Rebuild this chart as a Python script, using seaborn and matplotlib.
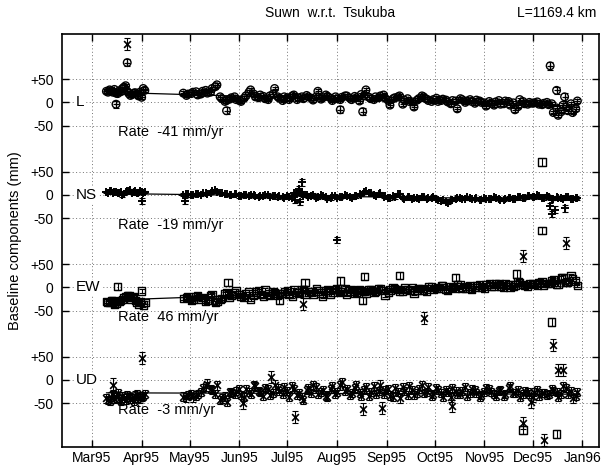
import numpy as np
import pandas as pd
import matplotlib
matplotlib.use("Agg")
import matplotlib.pyplot as plt
import matplotlib.dates as mdates
import seaborn as sns

sns.set_theme(style="ticks")
plt.rcParams['font.family'] = ['Liberation Sans', 'DejaVu Sans']
for k in ["text.color", "axes.labelcolor", "xtick.color", "ytick.color", "axes.edgecolor"]:
    plt.rcParams[k] = "black"

# ---------------- data (day of year 1995) ----------------
days_a = [69, 71, 73, 75, 77, 79, 81, 83, 85, 87, 89, 91, 93]
days_b = [117, 120, 123, 126, 129, 132, 135, 138, 141, 144, 147, 150, 153, 156, 159, 162,
          165, 168, 171, 174, 177, 180, 183, 186, 189, 192, 195, 198, 201, 204, 207, 210,
          213, 216, 219, 222, 225, 228, 231, 234, 237, 240, 243, 246, 249, 252, 255, 258,
          261, 264, 267, 270, 273, 276, 279, 282, 285, 288, 291, 294, 297, 300, 303, 306,
          309, 312, 315, 318, 321, 324, 327, 330, 333, 336, 339, 342, 345, 348, 351, 354,
          357, 360, 363]
days_c = [70, 72, 74, 76, 78, 80, 82, 84, 86, 88, 90, 92]
days_d = [119, 122, 125, 128, 131, 134, 137, 140, 143, 146,
          149, 152, 155, 158, 161, 164, 167, 170, 173, 176,
          179, 182, 185, 188, 191, 194, 197, 200, 203, 206,
          209, 212, 215, 218, 221, 224, 227, 230, 233, 236,
          239, 242, 245, 248, 251, 254, 257, 260, 263, 266,
          269, 272, 275, 278, 281, 284, 287, 290, 293, 296,
          299, 302, 305, 308, 311, 314, 317, 320, 323, 326,
          329, 332, 335, 338, 341, 344, 347, 350, 353, 356,
          359, 362]

L_a = [24, 27, 22, 20, 25, 30, 36, 19, 17, 21, 14, 11, 26]
L_b = [20, 18, 22, 16, 24, 20, 30, 38, 8, 4, 10, 6, 2, 14, 27, 12,
       16, 8, 14, 30, 9, 12, 6, 16, 10, 8, 12, 5, 24, 10, 13, 4,
       8, 11, 14, 6, 10, 17, 27, 8, 12, 14, 9, -6, 10, 14, 5, 2,
       -10, 8, 12, 4, 6, 2, 7, 1, 4, -14, 6, 3, 2, 5, 0, -8,
       -2, 1, -4, 3, -6, -16, 6, -3, 0, -1, -4, -2, -5, -22, -28, -6,
       -18, -22, 3]
L_c = [22, 25, 28, 19, 23, 33, 24, 15, 20, 18, 22, 30]
L_d = [15, 19, 23, 18, 26, 22, 34, 12, 2, 7,
       12, 4, 9, 22, 18, 10, 13, 6, 18, 12,
       4, 10, 14, 6, 12, 15, 9, 12, 7, 16,
       9, 12, 6, 14, 9, 13, 3, 15, 11, 6,
       10, 16, 4, 8, 12, -4, 8, 1, 5, 14,
       7, 2, 9, 4, 5, -3, 3, 8, 0, 6,
       -2, 3, -1, 2, -6, 4, -3, 2, -1, -9,
       2, -4, -2, 1, -5, 0, -3, -12, -20, -10,
       -3, -14]
L_out_day = [75, 82, 144, 215, 229, 346, 350, 355]
L_out_val = [-4, 86, -18, -16, -20, 79, 26, 12]

NS_a = [6, 8, 5, 7, 3, -1, 6, 9, 5, 8, 4, 7, 6]
NS_b = [0, 2, 0, 1, 3, 2, 8, 6, 3, 1, -1, 2, -2, -1, 0, -3,
        -2, -1, -4, -2, -3, -6, -4, 4, 8, -2, -4, 0, -5, -2, -8, -3,
        -6, -4, -2, -6, -3, 0, 8, 4, -2, 3, -3, -7, -5, 1, -8, -4,
        -6, -9, -5, -7, -4, -10, -12, -17, -10, -6, -8, -5, -9, -7, -10, -8,
        -9, -6, -10, -8, -7, -9, -4, -6, -2, -5, -3, -7, -4, -9, -6, -8,
        -5, -9, -7]
NS_c = [5, 9, 7, 4, 6, 2, 8, 10, 6, 3, 9, 5]
NS_d = [1, -1, 2, 0, 4, 5, 10, 4, 2, 0,
        1, -3, 0, -2, -1, -4, -3, 0, -3, -5,
        -4, -2, -6, 2, 6, 0, -3, -6, -1, -4,
        -7, -2, -5, -1, -4, -2, 2, 6, 5, 0,
        1, -4, -6, -3, 2, -6, -5, -8, -7, -4,
        -9, -6, -8, -14, -15, -11, -8, -6, -9, -7,
        -8, -11, -7, -9, -5, -8, -11, -6, -8, -5,
        -7, -3, -4, -1, -6, -2, -8, -5, -7, -4,
        -8, -6]
NS_out_day = [91, 118, 187, 189, 190, 191, 213, 346, 347, 349, 355]
NS_out_val = [-13, -13, -10, 13, -15, 27, -97, -24, -41, -32, -29]

EW_a = [-30, -33, -28, -35, -31, -26, -20, -18, -22, -29, -36, -8, -33]
EW_b = [-24, -20, -26, -18, -22, -28, -16, -30, -24, -12, -18, -8, -20, -14, -26, -10,
        -16, -5, -18, -12, -14, -9, -16, -6, -12, -4, -10, -15, -8, -20, -6, -11,
        -3, -9, -14, -5, -10, -7, -12, -4, -9, -2, -17, -6, -3, -8, -1, -7,
        -12, -3, -6, 2, -4, -1, 3, -6, 0, 5, -3, 2, -5, 4, 0, 6,
        2, 8, 3, 7, 1, 5, 10, 4, 8, 6, 11, 5, 9, 16, 7, 22,
        10, 18, 4]
EW_c = [-33, -29, -37, -30, -28, -22, -17, -25, -20, -33, -31, -38]
EW_d = [-22, -28, -20, -25, -30, -19, -33, -26, -14, -22,
        -12, -16, -22, -10, -18, -7, -20, -14, -9, -17,
        -13, -8, -19, -11, -5, -14, -9, -3, -12, -7,
        -15, -5, -10, -2, -8, -12, -4, -9, -6, -11,
        -3, -7, -10, -1, -5, -9, -4, 0, -6, -2,
        -8, 1, -3, 4, -5, 2, -2, 6, -1, 3,
        0, 5, -2, 7, 3, 9, 1, 6, 2, 12,
        6, 3, 9, 5, 12, 8, 14, 6, 20, 12,
        26, 14]
EW_out_day = [76, 145, 177, 193, 215, 229, 230, 252, 287, 325, 329, 341, 341, 347, 350]
EW_out_val = [2, 10, -27, 10, 14, -29, 24, 26, 21, 29, -308, 271, 123, -75, -317]

UD_a = [-40, -46, -30, -38, -42, -35, -44, -37, -40, -34, -38, -36, -31]
UD_b = [-36, -33, -38, -30, -18, -8, -22, -12, -40, -48, -28, -24, -32, -20, -30, -14,
        -26, -18, -32, -10, -24, -16, -36, -20, -28, -44, -18, -12, -30, -22, -36, -14,
        -26, -4, -20, -28, -12, -34, -16, -26, -30, -10, -22, -34, -18, -40, -24, -14,
        -32, -20, -28, -16, -30, -22, -36, -26, -18, -30, -24, -34, -20, -28, -32, -18,
        -26, -34, -22, -30, -14, -28, -36, -24, -30, -26, -34, -28, -30, -24, -36, -14,
        -30, -40, -26]
UD_c = [-44, -36, -42, -28, -45, -39, -33, -41, -46, -30, -40, -35]
UD_d = [-38, -30, -34, -26, -14, -20, -30, -44, -36, -26,
        -30, -20, -36, -26, -12, -24, -34, -20, -28, -18,
        -30, -24, -14, -32, -38, -22, -28, -16, -26, -34,
        -20, -30, -12, -24, -32, -18, -28, -22, -34, -14,
        -24, -30, -20, -36, -26, -16, -32, -22, -28, -12,
        -26, -34, -18, -28, -22, -38, -24, -30, -16, -28,
        -22, -36, -26, -20, -30, -24, -34, -18, -28, -22,
        -30, -26, -38, -22, -28, -32, -20, -26, -30, -18,
        -24, -34]
UD_out_day = [73, 82, 91, 154, 172, 187, 192, 229, 241, 267, 285, 329, 329, 334, 342, 348, 351, 354, 356]
UD_out_val = [-10, 726, 48, -50, 7, -80, 164, -64, -60, 134, -57, 267, -93, -47, -130, 75, 21, 21, 297]

components = ["L", "NS", "EW", "UD"]
offsets = [0, -200, -400, -600]
rates = ["-41", "-19", "46", "-3"]
trend_start = [22, 3, -28, -28]
trend_end = [-8, -10, 9, -31]
trend_days = [69, 364]
sigmas = [4, 3, 4, 9]

series_a = [L_a, NS_a, EW_a, UD_a]
series_b = [L_b, NS_b, EW_b, UD_b]
series_c = [L_c, NS_c, EW_c, UD_c]
series_d = [L_d, NS_d, EW_d, UD_d]
out_days = [L_out_day, NS_out_day, EW_out_day, UD_out_day]
out_vals = [L_out_val, NS_out_val, EW_out_val, UD_out_val]

base = pd.Timestamp("1994-12-31")
def to_date(d):
    return base + pd.to_timedelta(np.asarray(d, dtype=float), unit="D")

# ---------------- figure ----------------
fig = plt.figure(figsize=(6.01, 4.68), dpi=100)
ax = fig.add_axes([0.1032, 0.045, 0.8935, 0.8825])

for i, comp in enumerate(components):
    off = offsets[i]
    days = days_a + days_b + days_c + days_d
    vals = np.array(series_a[i] + series_b[i] + series_c[i] + series_d[i], dtype=float)
    df = pd.DataFrame({"date": to_date(days), "y": vals + off})
    odf = pd.DataFrame({"date": to_date(out_days[i]),
                        "y": np.array(out_vals[i], dtype=float) + off})
    allp = pd.concat([df, odf], ignore_index=True)

    # trend line
    ax.plot(to_date(trend_days), [trend_start[i] + off, trend_end[i] + off],
            color="black", lw=0.9, zorder=2)

    # error bars
    ax.errorbar(df["date"], df["y"], yerr=sigmas[i], fmt="none", ecolor="black",
                elinewidth=0.8, capsize=2, capthick=0.8, zorder=3)
    ax.errorbar(odf["date"], odf["y"], yerr=sigmas[i] + 4, fmt="none", ecolor="black",
                elinewidth=0.8, capsize=2.2, capthick=0.8, zorder=3)

    if comp == "L":
        sns.scatterplot(data=allp, x="date", y="y", ax=ax, marker="o", s=30,
                        color="black", facecolor="none", edgecolor="black",
                        linewidth=1.0, zorder=4, legend=False)
        sns.scatterplot(data=allp, x="date", y="y", ax=ax, marker="+", s=16,
                        color="black", linewidth=0.9, zorder=4, legend=False)
    elif comp == "NS":
        sns.scatterplot(data=allp, x="date", y="y", ax=ax, marker="+", s=40,
                        color="black", linewidth=1.4, zorder=4, legend=False)
    elif comp == "EW":
        sns.scatterplot(data=allp, x="date", y="y", ax=ax, marker="s", s=28,
                        color="black", facecolor="none", edgecolor="black",
                        linewidth=1.0, zorder=4, legend=False)
    else:
        sns.scatterplot(data=allp, x="date", y="y", ax=ax, marker="x", s=24,
                        color="black", linewidth=1.2, zorder=4, legend=False)

    ax.text(to_date([50])[0], off, comp, fontsize=11, ha="left", va="center",
            zorder=5, bbox=dict(facecolor="white", edgecolor="none", pad=0.5))
    ax.text(to_date([76])[0], off - 65, f"Rate  {rates[i]} mm/yr", fontsize=10.5,
            ha="left", va="center", zorder=5)

# axes formatting
ax.set_xlim(to_date([41.3])[0], to_date([376.5])[0])
ax.set_ylim(-745, 148)
yt, yl = [], []
for off in offsets:
    yt += [off + 50, off, off - 50]
    yl += ["+50", "0", "-50"]
ax.set_yticks(yt)
ax.set_yticklabels(yl)
ax.xaxis.set_major_locator(mdates.MonthLocator())
ax.xaxis.set_major_formatter(mdates.DateFormatter("%b%y"))
ax.tick_params(direction="in", length=5, width=1, top=True, right=True,
               labelsize=10, pad=6, colors="black")
ax.tick_params(axis="x", pad=3)
ax.grid(True, linestyle=(0, (1, 2.5)), color="0.45", linewidth=0.7)
for sp in ax.spines.values():
    sp.set_linewidth(1.2)
    sp.set_color("black")
    sp.set_visible(True)
ax.set_xlabel("")
ax.set_ylabel("Baseline components (mm)", fontsize=10.5, labelpad=6)

fig.text(0.55, 0.972, "Suwn  w.r.t.  Tsukuba", fontsize=10, ha="center", va="center")
fig.text(0.993, 0.972, "L=1169.4 km", fontsize=10, ha="right", va="center")

fig.savefig("out.png", dpi=100)
